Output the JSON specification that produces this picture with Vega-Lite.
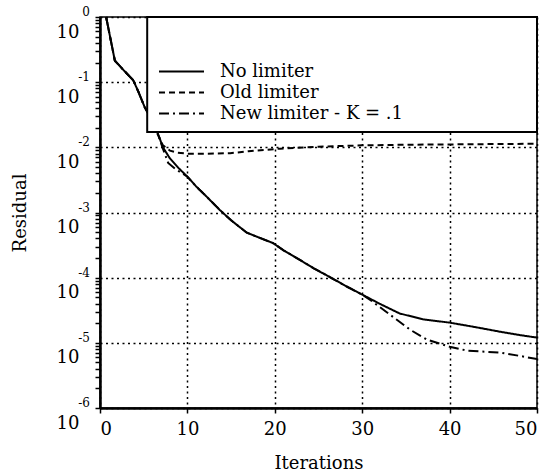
{
  "$schema": "https://vega.github.io/schema/vega-lite/v6.json",
  "width": 437,
  "height": 391,
  "autosize": "none",
  "padding": {"left": 100, "top": 17, "right": 2, "bottom": 68},
  "background": "white",
  "config": {
    "view": {"stroke": "black", "strokeWidth": 1.5},
    "font": "DejaVu Serif",
    "axis": {
      "labelFont": "DejaVu Serif",
      "titleFont": "DejaVu Serif",
      "labelColor": "black",
      "titleColor": "black",
      "domainColor": "black",
      "tickColor": "black",
      "gridColor": "black",
      "gridDash": [2, 3.5],
      "gridWidth": 1.5,
      "titleFontWeight": "normal"
    }
  },
  "layer": [
    {
      "data": {
        "values": [
          {"it": 0.7, "r": 1, "s": "No limiter"},
          {"it": 1.7, "r": 0.2138, "s": "No limiter"},
          {"it": 2.8, "r": 0.1479, "s": "No limiter"},
          {"it": 3.8, "r": 0.1072, "s": "No limiter"},
          {"it": 4.4, "r": 0.07079, "s": "No limiter"},
          {"it": 5.1, "r": 0.04169, "s": "No limiter"},
          {"it": 6.0, "r": 0.02512, "s": "No limiter"},
          {"it": 6.6, "r": 0.0166, "s": "No limiter"},
          {"it": 7.2, "r": 0.01, "s": "No limiter"},
          {"it": 8.0, "r": 0.006761, "s": "No limiter"},
          {"it": 9.0, "r": 0.004786, "s": "No limiter"},
          {"it": 10.0, "r": 0.003548, "s": "No limiter"},
          {"it": 11.0, "r": 0.002512, "s": "No limiter"},
          {"it": 12.0, "r": 0.001862, "s": "No limiter"},
          {"it": 13.7, "r": 0.001096, "s": "No limiter"},
          {"it": 15.0, "r": 0.0007586, "s": "No limiter"},
          {"it": 16.8, "r": 0.0004898, "s": "No limiter"},
          {"it": 18.3, "r": 0.0004074, "s": "No limiter"},
          {"it": 19.8, "r": 0.0003388, "s": "No limiter"},
          {"it": 21.0, "r": 0.000263, "s": "No limiter"},
          {"it": 22.9, "r": 0.0001862, "s": "No limiter"},
          {"it": 24.5, "r": 0.000138, "s": "No limiter"},
          {"it": 26.3, "r": 0.0001023, "s": "No limiter"},
          {"it": 28.0, "r": 0.00007586, "s": "No limiter"},
          {"it": 30.0, "r": 0.00005495, "s": "No limiter"},
          {"it": 32.0, "r": 0.00003981, "s": "No limiter"},
          {"it": 34.3, "r": 0.00002818, "s": "No limiter"},
          {"it": 37.0, "r": 0.00002291, "s": "No limiter"},
          {"it": 40.0, "r": 0.00002042, "s": "No limiter"},
          {"it": 43.0, "r": 0.00001738, "s": "No limiter"},
          {"it": 45.8, "r": 0.00001479, "s": "No limiter"},
          {"it": 48.0, "r": 0.00001318, "s": "No limiter"},
          {"it": 50.0, "r": 0.00001202, "s": "No limiter"},

          {"it": 0.7, "r": 1, "s": "Old limiter"},
          {"it": 1.7, "r": 0.2138, "s": "Old limiter"},
          {"it": 2.8, "r": 0.1479, "s": "Old limiter"},
          {"it": 3.8, "r": 0.1072, "s": "Old limiter"},
          {"it": 4.4, "r": 0.07079, "s": "Old limiter"},
          {"it": 5.1, "r": 0.04169, "s": "Old limiter"},
          {"it": 6.0, "r": 0.02512, "s": "Old limiter"},
          {"it": 6.6, "r": 0.01585, "s": "Old limiter"},
          {"it": 7.2, "r": 0.01072, "s": "Old limiter"},
          {"it": 8.0, "r": 0.008913, "s": "Old limiter"},
          {"it": 8.8, "r": 0.008318, "s": "Old limiter"},
          {"it": 10.3, "r": 0.007943, "s": "Old limiter"},
          {"it": 12.0, "r": 0.007943, "s": "Old limiter"},
          {"it": 14.9, "r": 0.008128, "s": "Old limiter"},
          {"it": 17.0, "r": 0.00871, "s": "Old limiter"},
          {"it": 20.6, "r": 0.00955, "s": "Old limiter"},
          {"it": 25.0, "r": 0.01023, "s": "Old limiter"},
          {"it": 30.0, "r": 0.01072, "s": "Old limiter"},
          {"it": 35.0, "r": 0.01096, "s": "Old limiter"},
          {"it": 40.0, "r": 0.01109, "s": "Old limiter"},
          {"it": 45.0, "r": 0.01122, "s": "Old limiter"},
          {"it": 50.0, "r": 0.01135, "s": "Old limiter"},

          {"it": 0.7, "r": 1, "s": "New limiter - K = .1"},
          {"it": 1.7, "r": 0.2138, "s": "New limiter - K = .1"},
          {"it": 2.8, "r": 0.1479, "s": "New limiter - K = .1"},
          {"it": 3.8, "r": 0.1072, "s": "New limiter - K = .1"},
          {"it": 4.4, "r": 0.07079, "s": "New limiter - K = .1"},
          {"it": 5.1, "r": 0.04169, "s": "New limiter - K = .1"},
          {"it": 6.0, "r": 0.02512, "s": "New limiter - K = .1"},
          {"it": 6.6, "r": 0.0166, "s": "New limiter - K = .1"},
          {"it": 7.2, "r": 0.00955, "s": "New limiter - K = .1"},
          {"it": 7.8, "r": 0.005754, "s": "New limiter - K = .1"},
          {"it": 8.6, "r": 0.004677, "s": "New limiter - K = .1"},
          {"it": 10.0, "r": 0.003548, "s": "New limiter - K = .1"},
          {"it": 11.0, "r": 0.002512, "s": "New limiter - K = .1"},
          {"it": 12.0, "r": 0.001862, "s": "New limiter - K = .1"},
          {"it": 13.7, "r": 0.001096, "s": "New limiter - K = .1"},
          {"it": 15.0, "r": 0.0007586, "s": "New limiter - K = .1"},
          {"it": 16.8, "r": 0.0004898, "s": "New limiter - K = .1"},
          {"it": 18.3, "r": 0.0004074, "s": "New limiter - K = .1"},
          {"it": 19.8, "r": 0.0003388, "s": "New limiter - K = .1"},
          {"it": 21.0, "r": 0.000263, "s": "New limiter - K = .1"},
          {"it": 22.9, "r": 0.0001862, "s": "New limiter - K = .1"},
          {"it": 24.5, "r": 0.000138, "s": "New limiter - K = .1"},
          {"it": 26.3, "r": 0.0001023, "s": "New limiter - K = .1"},
          {"it": 28.0, "r": 0.00007586, "s": "New limiter - K = .1"},
          {"it": 30.0, "r": 0.00005495, "s": "New limiter - K = .1"},
          {"it": 31.0, "r": 0.00004467, "s": "New limiter - K = .1"},
          {"it": 32.0, "r": 0.00003548, "s": "New limiter - K = .1"},
          {"it": 34.0, "r": 0.00002239, "s": "New limiter - K = .1"},
          {"it": 35.5, "r": 0.00001585, "s": "New limiter - K = .1"},
          {"it": 37.4, "r": 0.00001122, "s": "New limiter - K = .1"},
          {"it": 40.0, "r": 0.00000871, "s": "New limiter - K = .1"},
          {"it": 42.0, "r": 0.000007586, "s": "New limiter - K = .1"},
          {"it": 45.8, "r": 0.000007079, "s": "New limiter - K = .1"},
          {"it": 48.0, "r": 0.00000631, "s": "New limiter - K = .1"},
          {"it": 50.0, "r": 0.000005623, "s": "New limiter - K = .1"}
        ]
      },
      "mark": {"type": "line", "color": "black", "strokeWidth": 2, "clip": true},
      "encoding": {
        "x": {
          "field": "it",
          "type": "quantitative",
          "scale": {"domain": [0, 50], "nice": false, "zero": false},
          "axis": {
            "title": "Iterations",
            "titleFontSize": 18,
            "titleX": 218.5,
            "titleY": 55,
            "titleBaseline": "middle",
            "values": [0, 10, 20, 30, 40, 50],
            "format": "d",
            "labelFontSize": 18,
            "labelPadding": 7,
            "labelBaseline": "top",
            "labelFlush": true,
            "ticks": true,
            "tickSize": 5,
            "tickWidth": 1.5,
            "domainWidth": 2.5,
            "grid": true
          }
        },
        "y": {
          "field": "r",
          "type": "quantitative",
          "scale": {"type": "log", "domain": [0.000001, 1], "nice": false},
          "axis": {
            "title": "Residual",
            "titleFontSize": 18,
            "titleAngle": -90,
            "titleX": -80,
            "titleY": 195.5,
            "titleBaseline": "middle",
            "titleAlign": "center",
            "values": [
              0.000001, 0.000002, 0.000003, 0.000004, 0.000005, 0.000006, 0.000007, 0.000008, 0.000009,
              0.00001, 0.00002, 0.00003, 0.00004, 0.00005, 0.00006, 0.00007, 0.00008, 0.00009,
              0.0001, 0.0002, 0.0003, 0.0004, 0.0005, 0.0006, 0.0007, 0.0008, 0.0009,
              0.001, 0.002, 0.003, 0.004, 0.005, 0.006, 0.007, 0.008, 0.009,
              0.01, 0.02, 0.03, 0.04, 0.05, 0.06, 0.07, 0.08, 0.09,
              0.1, 0.2, 0.3, 0.4, 0.5, 0.6, 0.7, 0.8, 0.9,
              1
            ],
            "labelExpr": "abs(log(datum.value) / LN10 - round(log(datum.value) / LN10)) < 0.001 ? '10' : ''",
            "labelFontSize": 18,
            "labelAlign": "right",
            "labelBaseline": "top",
            "labelOffset": 6,
            "labelPadding": 16,
            "labelOverlap": false,
            "labelFlush": false,
            "labelBound": false,
            "ticks": true,
            "tickSize": 5,
            "tickWidth": 1.5,
            "domainWidth": 2.5,
            "grid": true,
            "gridOpacity": {
              "condition": {
                "test": "abs(log(datum.value) / LN10 - round(log(datum.value) / LN10)) < 0.001",
                "value": 1
              },
              "value": 0
            }
          }
        },
        "strokeDash": {
          "field": "s",
          "type": "nominal",
          "scale": {
            "domain": ["No limiter", "Old limiter", "New limiter - K = .1"],
            "range": [[1, 0], [6, 4], [10, 4, 2, 4]]
          },
          "legend": {
            "orient": "none",
            "legendX": 58,
            "legendY": 44,
            "title": null,
            "padding": 0,
            "symbolType": "stroke",
            "symbolSize": 2025,
            "symbolStrokeWidth": 2,
            "symbolStrokeColor": "black",
            "clipHeight": 21,
            "rowPadding": 0,
            "labelFont": "DejaVu Serif",
            "labelFontSize": 18,
            "labelColor": "black",
            "labelOffset": 15,
            "labelLimit": 0,
            "zindex": 2
          }
        }
      }
    },
    {
      "data": {"values": [{}]},
      "mark": {"type": "rect", "fill": "white", "stroke": "black", "strokeWidth": 2},
      "encoding": {
        "x": {"datum": 5.4},
        "x2": {"datum": 50},
        "y": {"datum": 1},
        "y2": {"datum": 0.0172}
      }
    },
    {
      "data": {
        "values": [
          {"v": 1, "e": "0"},
          {"v": 0.1, "e": "-1"},
          {"v": 0.01, "e": "-2"},
          {"v": 0.001, "e": "-3"},
          {"v": 0.0001, "e": "-4"},
          {"v": 0.00001, "e": "-5"},
          {"v": 0.000001, "e": "-6"}
        ]
      },
      "mark": {
        "type": "text",
        "font": "DejaVu Serif",
        "fontSize": 12,
        "color": "black",
        "align": "right",
        "baseline": "middle",
        "dx": -10,
        "dy": -5
      },
      "encoding": {
        "x": {"datum": 0},
        "y": {"field": "v", "type": "quantitative"},
        "text": {"field": "e"}
      }
    }
  ]
}
